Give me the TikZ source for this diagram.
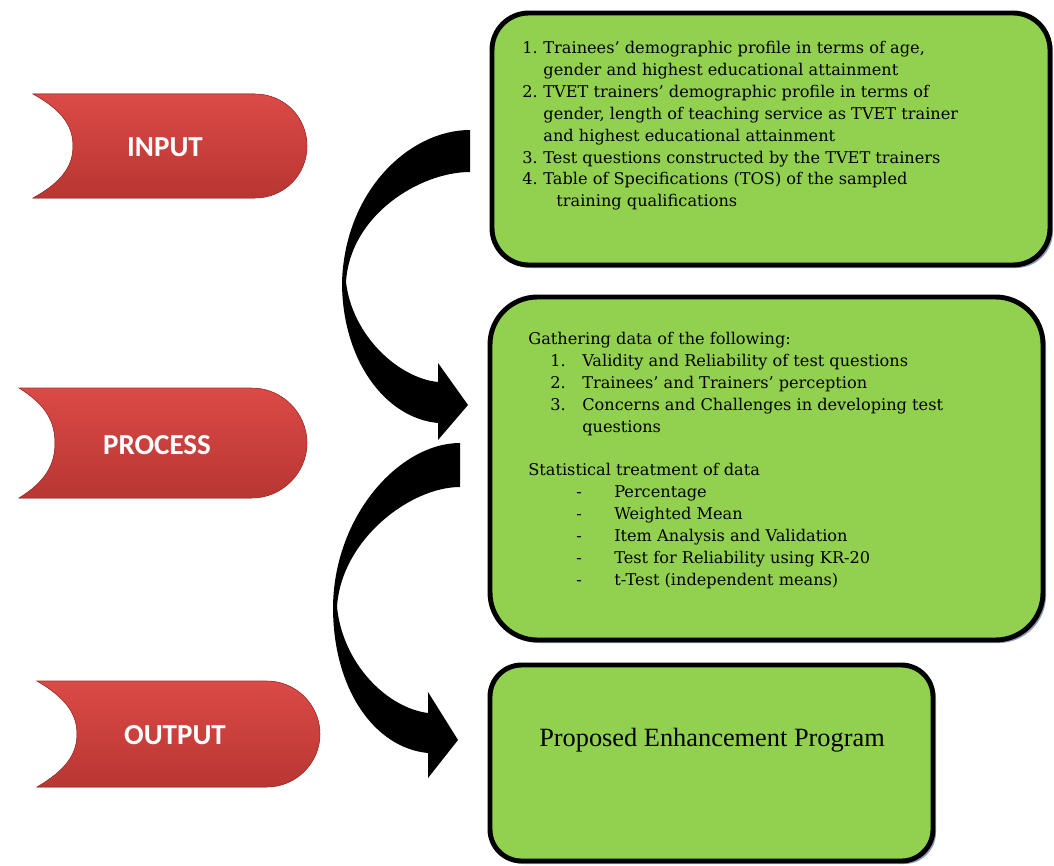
\documentclass[tikz,border=0pt]{standalone}
\usepackage{fontspec}
\usepackage{xcolor}
\newfontfamily\tabfont{Carlito}
\newfontfamily\boxfont{DejaVu Serif}
\newfontfamily\timesfont{Liberation Serif}
\usetikzlibrary{positioning}

\definecolor{boxgreen}{HTML}{92D050}
\definecolor{tabedge}{HTML}{A52E2B}
\definecolor{tabtop}{HTML}{DB4A46}
\definecolor{tabbot}{HTML}{B83633}
\definecolor{shadowblue}{HTML}{8D9DB3}

\tikzset{
  greenbox/.style={draw=black,line width=2.8pt,fill=boxgreen},
  boxshadow/.style={fill=shadowblue},
  redtab/.style={top color=tabtop,bottom color=tabbot,draw=tabedge,line width=0.3pt},
  tablabel/.style={text=white,font=\tabfont\bfseries\fontsize{16.5}{19}\selectfont},
  blockarrow/.style={fill=black},
  boxtext/.style={anchor=north west,inner sep=0pt,align=left,font=\boxfont\fontsize{9.2}{12.45}\selectfont},
}

\begin{document}
\begin{tikzpicture}[x=0.02cm,y=-0.02cm]
\useasboundingbox[fill=white] (0,0) rectangle (1054,865);

% Red tabs
\fill[redtab] (33,94) -- (255,94) .. controls (284,94) and (307,117) .. (307,146)
  .. controls (307,175) and (284,198) .. (255,198) -- (33,198)
  .. controls (62,182) and (73,166) .. (73,146) .. controls (73,126) and (62,110) .. (33,94) -- cycle;
\node[tablabel] (input) at (165,147) {INPUT};

\fill[redtab] (19,388) -- (252,388) .. controls (282,388) and (307,413) .. (307,443)
  .. controls (307,473) and (282,498) .. (252,498) -- (19,498)
  .. controls (45,482) and (55,465) .. (55,443) .. controls (55,421) and (45,404) .. (19,388) -- cycle;
\node[tablabel] (process) at (157,445) {PROCESS};

\fill[redtab] (37,681) -- (267,681) .. controls (296,681) and (320,705) .. (320,734)
  .. controls (320,763) and (296,787) .. (267,787) -- (37,787)
  .. controls (66,770) and (77,754) .. (77,734) .. controls (77,714) and (66,698) .. (37,681) -- cycle;
\node[tablabel] (output) at (175,735) {OUTPUT};

% Curved block arrows
\fill[blockarrow] (470,130) .. controls (410,130) and (345,190) .. (342,282)
  .. controls (342,360) and (385,418) .. (438,423) -- (438,440) -- (468,405) -- (438,363) -- (438,382)
  .. controls (398,378) and (352,335) .. (346,282) .. controls (350,215) and (420,172) .. (470,172) -- cycle;

\fill[blockarrow] (460,443) .. controls (400,443) and (334,515) .. (333,607)
  .. controls (333,690) and (375,748) .. (428,753) -- (428,778) -- (458,740) -- (428,692) -- (428,713)
  .. controls (388,708) and (343,665) .. (337,607) .. controls (341,540) and (410,487) .. (460,487) -- cycle;

% Green boxes
\fill[boxshadow,rounded corners=21pt] (495,16) rectangle (1053,268);
\draw[greenbox,rounded corners=21pt] (492,13) rectangle (1050,265);
\fill[boxshadow,rounded corners=27pt] (493,300) rectangle (1046,643);
\draw[greenbox,rounded corners=27pt] (490,297) rectangle (1043,640);
\fill[boxshadow,rounded corners=18pt] (493,668) rectangle (936,864);
\draw[greenbox,rounded corners=18pt] (490,665) rectangle (933,861);

% Box texts
\node[boxtext] (inputtext) at (522,41) {%
\makebox[12pt][l]{1.}Trainees’ demographic profile in terms of age,\\
\hspace*{12pt}gender and highest educational attainment\\
\makebox[12pt][l]{2.}TVET trainers’ demographic profile in terms of\\
\hspace*{12pt}gender, length of teaching service as TVET trainer\\
\hspace*{12pt}and highest educational attainment\\
\makebox[12pt][l]{3.}Test questions constructed by the TVET trainers\\
\makebox[12pt][l]{4.}Table of Specifications (TOS) of the sampled\\
\hspace*{19.4pt}training qualifications};

\node[boxtext] (processtext) at (528,332) {%
Gathering data of the following:\\
\hspace*{12.5pt}\makebox[18.2pt][l]{1.}Validity and Reliability of test questions\\
\hspace*{12.5pt}\makebox[18.2pt][l]{2.}Trainees’ and Trainers’ perception\\
\hspace*{12.5pt}\makebox[18.2pt][l]{3.}Concerns and Challenges in developing test\\
\hspace*{30.7pt}questions\\[12.45pt]
Statistical treatment of data\\
\hspace*{27.3pt}\makebox[21.6pt][l]{-}Percentage\\
\hspace*{27.3pt}\makebox[21.6pt][l]{-}Weighted Mean\\
\hspace*{27.3pt}\makebox[21.6pt][l]{-}Item Analysis and Validation\\
\hspace*{27.3pt}\makebox[21.6pt][l]{-}Test for Reliability using KR-20\\
\hspace*{27.3pt}\makebox[21.6pt][l]{-}t-Test (independent means)};

\node[font=\timesfont\fontsize{15}{18}\selectfont] (outputtext) at (712,740) {Proposed Enhancement Program};
\end{tikzpicture}
\end{document}
